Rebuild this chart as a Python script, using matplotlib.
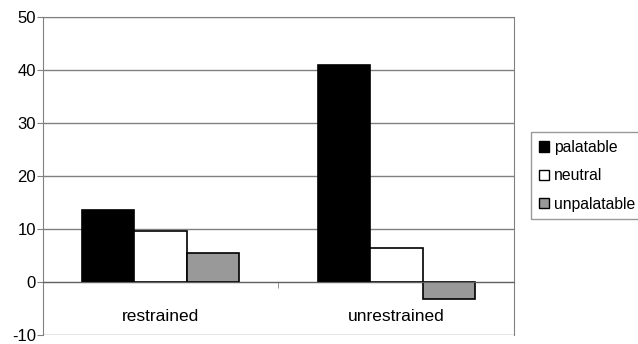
import matplotlib.pyplot as plt
from matplotlib.patches import Patch
import numpy as np

plt.rcParams['font.family'] = ['Liberation Sans', 'DejaVu Sans']
plt.rcParams['axes.unicode_minus'] = False

groups = ['restrained', 'unrestrained']
series = ['palatable', 'neutral', 'unpalatable']
palatable = [13.6, 40.9]
neutral = [9.6, 6.5]
unpalatable = [5.5, -3.2]
colors = ['black', 'white', '#999999']

fig = plt.figure(figsize=(6.38, 3.44), dpi=100)
ax = fig.add_axes([0.067, 0.025, 0.739, 0.927])

x = np.arange(len(groups))
w = 0.223
for i, (vals, c) in enumerate(zip([palatable, neutral, unpalatable], colors)):
    ax.bar(x + (i - 1) * w, vals, w, color=c, edgecolor='black', linewidth=1.2, zorder=3)

ax.set_xlim(-0.5, 1.5)
ax.set_ylim(-10, 50)
ax.set_yticks(range(-10, 51, 10))
ax.yaxis.grid(True, color='#808080', linewidth=1, zorder=0)

for s in ['top', 'right', 'left']:
    ax.spines[s].set_color('#808080')
ax.spines['bottom'].set_position(('data', 0))
ax.spines['bottom'].set_color('#606060')
ax.spines['bottom'].set_zorder(4)

ax.set_xticks(x)
ax.set_xticklabels(groups, fontsize=12.5)
ax.set_xticks([0.5], minor=True)
ax.tick_params(axis='x', which='major', length=0, pad=19)
ax.tick_params(axis='x', which='minor', length=4, color='#808080', direction='out')
ax.tick_params(axis='y', length=4, color='#808080', labelsize=12, pad=1)

handles = [Patch(facecolor=c, edgecolor='black', linewidth=1) for c in colors]
fig.legend(handles, series, loc='upper left', bbox_to_anchor=(0.832, 0.616),
           frameon=True, fancybox=False, edgecolor='#808080', fontsize=11.3,
           handlelength=0.65, handleheight=0.65, handletextpad=0.35,
           borderaxespad=0, labelspacing=0.85, borderpad=0.5)

fig.savefig('out.png', dpi=100)
